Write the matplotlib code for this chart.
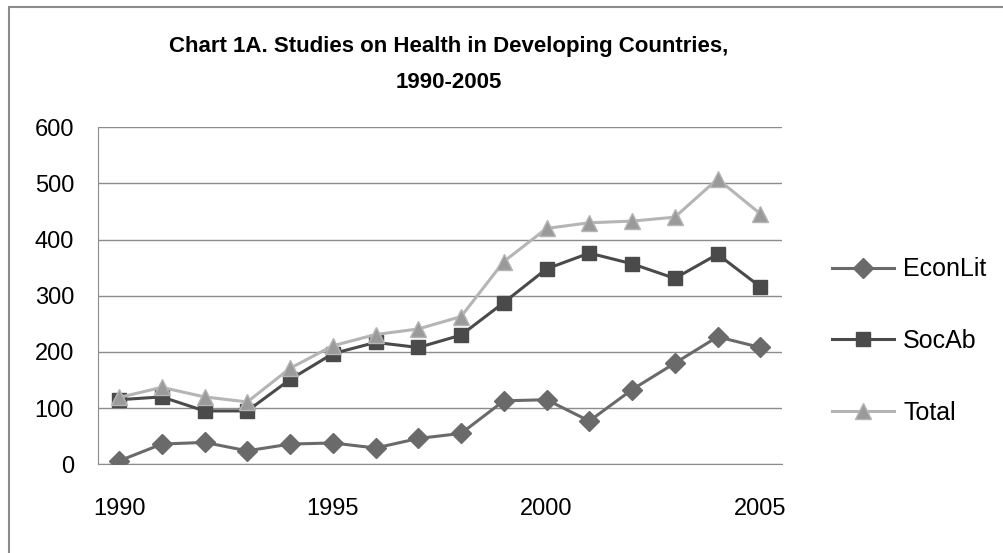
import matplotlib.pyplot as plt
from matplotlib.patches import Rectangle

plt.rcParams['font.family'] = ['Liberation Sans', 'DejaVu Sans']

years = list(range(1990, 2006))
econlit = [6, 36, 39, 24, 36, 38, 29, 46, 55, 113, 115, 77, 133, 180, 227, 208]
socab = [115, 120, 95, 95, 151, 197, 217, 208, 230, 288, 348, 376, 357, 331, 374, 316]
total = [119, 137, 120, 111, 171, 211, 231, 241, 263, 361, 420, 430, 433, 440, 508, 446]
xtick_labels = ["1990", "1995", "2000", "2005"]

fig = plt.figure(figsize=(10.04, 5.53), dpi=100)
ax = fig.add_axes([0.0973, 0.1604, 0.6813, 0.6094])

x = list(range(len(years)))
ax.plot(x, econlit, color="#6a6a6a", lw=2.2, marker="D", ms=10,
        label="EconLit", zorder=3)
ax.plot(x, socab, color="#4a4a4a", lw=2.2, marker="s", ms=10,
        label="SocAb", zorder=3)
ax.plot(x, total, color="#b5b5b5", lw=2.2, marker="^", ms=11,
        mfc="#9a9a9a", mec="#b5b5b5", label="Total", zorder=4)

ax.set_xlim(-0.5, len(years) - 0.5)
ax.set_ylim(0, 600)
ax.set_yticks(range(0, 601, 100))
ax.set_xticks([0, 5, 10, 15])
ax.set_xticklabels(xtick_labels)
ax.yaxis.grid(True, color="#8c8c8c", lw=1)
ax.set_axisbelow(True)
ax.tick_params(length=0, labelsize=17)
ax.tick_params(axis="y", pad=17)
ax.tick_params(axis="x", pad=24)
for s in ["top", "right"]:
    ax.spines[s].set_visible(False)
for s in ["left", "bottom"]:
    ax.spines[s].set_color("#8c8c8c")

# title, two lines placed by baseline
fig.text(449 / 1004, 1 - 52 / 553, "Chart 1A. Studies on Health in Developing Countries,",
         ha="center", va="baseline", fontsize=16, fontweight="bold")
fig.text(449 / 1004, 1 - 88 / 553, "1990-2005",
         ha="center", va="baseline", fontsize=16, fontweight="bold")

ax.legend(loc="center left", bbox_to_anchor=(832 / 1004, 1 - 341 / 553),
          bbox_transform=fig.transFigure, frameon=False, borderaxespad=0,
          borderpad=0, fontsize=18, handlelength=2.48, labelspacing=1.9,
          handletextpad=0.36)

fig.patches.append(Rectangle((9 / 1004, -0.1), 1.2, 1.1 - 7 / 553,
                             transform=fig.transFigure, fill=False,
                             edgecolor="#8c8c8c", lw=1.5))

fig.savefig("out.png", dpi=100)
